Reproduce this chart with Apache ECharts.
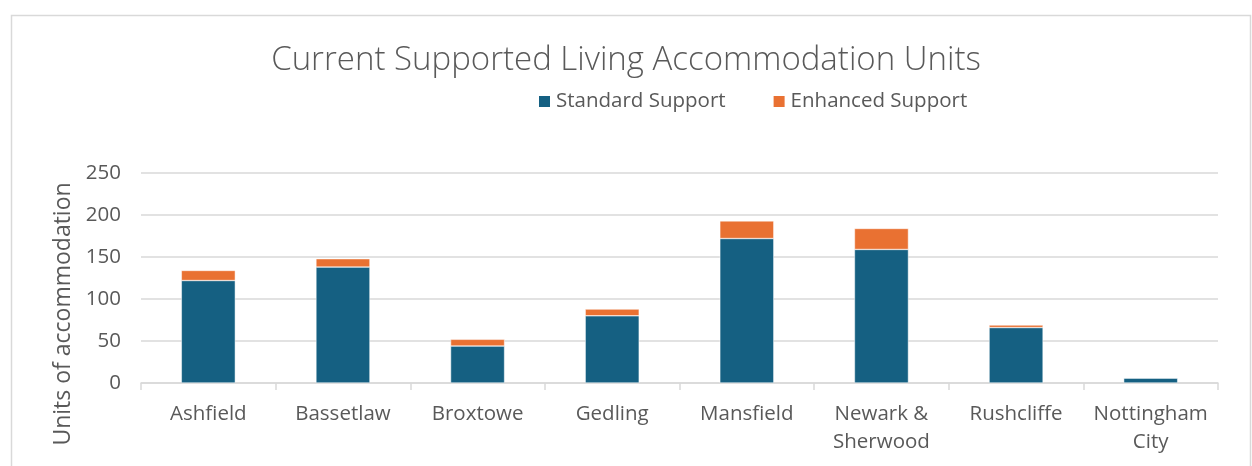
<!DOCTYPE html>
<html>
<head>
<meta charset="utf-8">
<script src="https://cdn.jsdelivr.net/npm/echarts@6/dist/echarts.min.js"></script>
<style>
  html, body { margin: 0; padding: 0; background: #fff; }
  #chart { width: 1252px; height: 466px; }
</style>
</head>
<body>
<div id="chart"></div>
<script>
// values
const areas = ["Ashfield", "Bassetlaw", "Broxtowe", "Gedling", "Mansfield", "Newark &\nSherwood", "Rushcliffe", "Nottingham\nCity"];
const standardSupport = [122, 138, 44, 80, 172, 159, 66, 6];
const enhancedSupport = [12, 10, 8, 8, 21, 25, 3, 0];
const yTicks = { min: 0, max: 250, interval: 50 };

const textGrey = "#595959";
const font = "Open Sans";

const chart = echarts.init(document.getElementById("chart"));

chart.setOption({
  backgroundColor: "#ffffff",
  animation: false,
  title: {
    text: "Current Supported Living Accommodation Units",
    left: "center",
    top: 39,
    textStyle: {
      color: textGrey,
      fontFamily: font,
      fontWeight: 300,
      fontSize: 33,
    },
  },
  legend: {
    top: 86,
    left: 532,
    itemWidth: 13,
    itemHeight: 13,
    itemGap: 46,
    icon: "rect",
    textStyle: { color: textGrey, fontFamily: font, fontSize: 20.5 },
    data: ["Standard Support", "Enhanced Support"],
  },
  grid: { left: 141, right: 34, top: 173, bottom: 83 },
  xAxis: {
    type: "category",
    data: areas,
    axisLine: { lineStyle: { color: "#d9d9d9", width: 1.5 } },
    axisTick: { show: true, length: 7, lineStyle: { color: "#d9d9d9", width: 1.5 } },
    axisLabel: {
      color: textGrey,
      fontFamily: font,
      fontSize: 20.5,
      lineHeight: 28,
      margin: 17,
      interval: 0,
    },
  },
  yAxis: {
    type: "value",
    min: yTicks.min,
    max: yTicks.max,
    interval: yTicks.interval,
    name: "Units of accommodation",
    nameLocation: "middle",
    nameGap: 64,
    nameTextStyle: {
      color: textGrey,
      fontFamily: font,
      fontSize: 23,
      padding: [0, 72, 0, 0],
    },
    axisLine: { show: false },
    axisTick: { show: false },
    axisLabel: { color: textGrey, fontFamily: font, fontSize: 20.5, margin: 20 },
    splitLine: { lineStyle: { color: "#d9d9d9", width: 1.5 } },
  },
  graphic: [
    {
      type: "rect",
      left: 9,
      top: 13,
      shape: { width: 1239, height: 470 },
      style: { fill: "none", stroke: "#d9d9d9", lineWidth: 1.5 },
      silent: true,
      z: -1,
    },
  ],
  series: [
    {
      name: "Standard Support",
      type: "bar",
      stack: "units",
      barWidth: 54,
      data: standardSupport,
      itemStyle: { color: "#156082", borderColor: "#ffffff", borderWidth: 0.5 },
    },
    {
      name: "Enhanced Support",
      type: "bar",
      stack: "units",
      barWidth: 54,
      data: enhancedSupport,
      itemStyle: { color: "#E97132", borderColor: "#ffffff", borderWidth: 0.5 },
    },
  ],
});
</script>
</body>
</html>
